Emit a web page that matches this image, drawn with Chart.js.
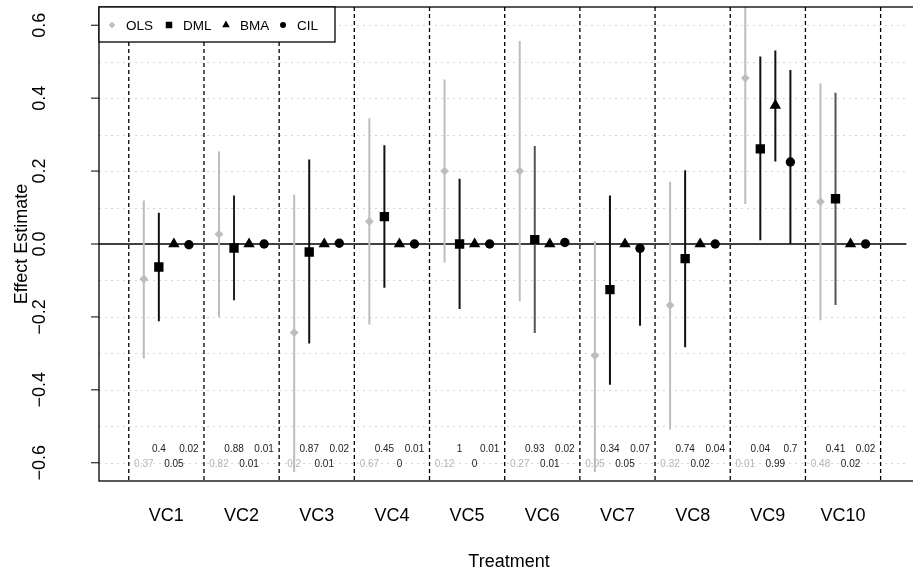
<!DOCTYPE html>
<html>
<head>
<meta charset="utf-8">
<script src="https://cdn.jsdelivr.net/npm/chart.js@4.4.1/dist/chart.umd.min.js"></script>
<style>
  html, body { margin: 0; padding: 0; background: #fff; }
  #effectChart { display: block; }
</style>
</head>
<body>
<canvas id="effectChart" width="913" height="574"></canvas>
<script>
// treatments and estimates
const treatments = ['VC1', 'VC2', 'VC3', 'VC4', 'VC5', 'VC6', 'VC7', 'VC8', 'VC9', 'VC10'];

const olsEst = [-0.096, 0.027, -0.243, 0.062, 0.200, 0.200, -0.306, -0.168, 0.455, 0.116];
const olsLo  = [-0.314, -0.200, -0.625, -0.221, -0.051, -0.157, -0.625, -0.509, 0.110, -0.209];
const olsHi  = [0.119, 0.254, 0.136, 0.345, 0.451, 0.557, 0.008, 0.171, 0.800, 0.441];

const dmlEst = [-0.063, -0.011, -0.022, 0.075, 0.000, 0.012, -0.125, -0.040, 0.261, 0.124];
const dmlLo  = [-0.212, -0.154, -0.273, -0.120, -0.178, -0.244, -0.386, -0.283, 0.010, -0.167];
const dmlHi  = [0.086, 0.133, 0.232, 0.271, 0.179, 0.269, 0.133, 0.202, 0.514, 0.415];

const bmaEst = [0, 0, 0, 0, 0, 0, 0, 0, 0.380, 0];
const bmaLo  = [0, 0, 0, 0, 0, 0, 0, 0, 0.226, 0];
const bmaHi  = [0, 0, 0, 0, 0, 0, 0, 0, 0.531, 0];

const cilEst = [-0.002, 0, 0.002, 0, 0, 0.004, -0.012, 0, 0.225, 0];
const cilLo  = [0, 0, 0, 0, 0, 0, -0.224, 0, 0.000, 0];
const cilHi  = [0, 0, 0, 0, 0, 0, 0.000, 0, 0.477, 0];

// numbers printed at the bottom of each panel
const olsNum = ['0.37', '0.82', '0.2', '0.67', '0.12', '0.27', '0.05', '0.32', '0.01', '0.48'];
const dmlNum = ['0.4', '0.88', '0.87', '0.45', '1', '0.93', '0.34', '0.74', '0.04', '0.41'];
const bmaNum = ['0.05', '0.01', '0.01', '0', '0', '0.01', '0.05', '0.02', '0.99', '0.02'];
const cilNum = ['0.02', '0.01', '0.02', '0.01', '0.01', '0.02', '0.07', '0.04', '0.7', '0.02'];

const yTicks = [-0.6, -0.4, -0.2, 0.0, 0.2, 0.4, 0.6];
const yTickLabels = ['\u22120.6', '\u22120.4', '\u22120.2', '0.0', '0.2', '0.4', '0.6'];
const gridVals = [-0.6, -0.5, -0.4, -0.3, -0.2, -0.1, 0.1, 0.2, 0.3, 0.4, 0.5, 0.6];

const FONT = "'Liberation Sans', Arial, Helvetica, sans-serif";
const GREY = '#bdbdbd';

// one entry per method: where it sits inside a panel and how it looks
const methods = [
    { label: 'OLS', est: olsEst, lo: olsLo, hi: olsHi, off: -0.3, style: 'rectRot', r: 4.4, col: GREY, bar: GREY, legR: 3.2 },
    { label: 'DML', est: dmlEst, lo: dmlLo, hi: dmlHi, off: -0.1, style: 'rect', r: 6.6, col: '#000', bar: '#111', legR: 4.6 },
    { label: 'BMA', est: bmaEst, lo: bmaLo, hi: bmaHi, off: 0.1, style: 'triangle', r: 6.6, col: '#000', bar: '#111', legR: 4.4 },
    { label: 'CIL', est: cilEst, lo: cilLo, hi: cilHi, off: 0.3, style: 'circle', r: 4.7, col: '#000', bar: '#111', legR: 3.0 }
];
// a couple of DML bars are drawn in dark grey in the original
const dmlBarCol = ['#111', '#222', '#111', '#111', '#111', '#555', '#111', '#111', '#111', '#555'];

function line(ctx, x1, y1, x2, y2) {
    ctx.beginPath();
    ctx.moveTo(x1, y1);
    ctx.lineTo(x2, y2);
    ctx.stroke();
}

const rPlot = {
    id: 'rPlot',
    beforeDatasetsDraw(chart) {
        const { ctx, chartArea: a, scales: { x, y } } = chart;
        ctx.save();

        // dotted grid
        ctx.strokeStyle = '#d6d6d6';
        ctx.lineWidth = 1;
        ctx.setLineDash([2, 4]);
        gridVals.forEach(v => {
            const py = Math.round(y.getPixelForValue(v)) + 0.5;
            line(ctx, a.left, py, a.right, py);
        });

        // dashed panel separators
        ctx.strokeStyle = '#000';
        ctx.lineWidth = 1.3;
        ctx.setLineDash([4, 3]);
        for (let k = 0; k <= treatments.length; k++) {
            const px = x.getPixelForValue(k + 0.5);
            line(ctx, px, a.top, px, a.bottom);
        }

        // zero line
        ctx.setLineDash([]);
        ctx.lineWidth = 1.3;
        const y0 = y.getPixelForValue(0);
        line(ctx, a.left, y0, a.right, y0);

        // interval bars
        ctx.beginPath();
        ctx.rect(a.left, a.top, a.right - a.left, a.bottom - a.top);
        ctx.clip();
        ctx.lineWidth = 2;
        methods.forEach(m => {
            m.lo.forEach((lo, i) => {
                if (lo === m.hi[i]) return;
                const px = x.getPixelForValue(i + 1 + m.off);
                ctx.strokeStyle = m.label === 'DML' ? dmlBarCol[i] : m.bar;
                line(ctx, px, y.getPixelForValue(m.hi[i]), px, y.getPixelForValue(lo));
            });
        });
        ctx.restore();
    },
    afterDraw(chart) {
        const { ctx, chartArea: a, scales: { x, y } } = chart;
        ctx.save();

        // box
        ctx.strokeStyle = '#000';
        ctx.lineWidth = 1.3;
        ctx.strokeRect(a.left, a.top, a.right - a.left + 10, a.bottom - a.top);

        // y axis ticks and labels (R style, parallel to the axis)
        ctx.lineWidth = 1;
        ctx.fillStyle = '#000';
        ctx.font = '18px ' + FONT;
        ctx.textAlign = 'center';
        ctx.textBaseline = 'middle';
        yTicks.forEach((v, i) => {
            const py = y.getPixelForValue(v);
            line(ctx, a.left - 8, py, a.left, py);
            ctx.save();
            ctx.translate(40, py);
            ctx.rotate(-Math.PI / 2);
            ctx.fillText(yTickLabels[i], 0, 0);
            ctx.restore();
        });

        // axis titles
        ctx.save();
        ctx.translate(22, (a.top + a.bottom) / 2);
        ctx.rotate(-Math.PI / 2);
        ctx.fillText('Effect Estimate', 0, 0);
        ctx.restore();
        ctx.fillText('Treatment', 509, 562);

        // x category labels
        treatments.forEach((t, i) => {
            ctx.fillText(t, x.getPixelForValue(i + 1), 516);
        });

        // small numbers at the bottom of each panel
        ctx.font = '10px ' + FONT;
        treatments.forEach((t, i) => {
            const c = i + 1;
            ctx.fillStyle = '#222';
            ctx.fillText(dmlNum[i], x.getPixelForValue(c + methods[1].off), 449);
            ctx.fillText(cilNum[i], x.getPixelForValue(c + methods[3].off), 449);
            ctx.fillText(bmaNum[i], x.getPixelForValue(c + methods[2].off), 464);
            ctx.fillStyle = '#b5b5b5';
            ctx.fillText(olsNum[i], x.getPixelForValue(c + methods[0].off), 464);
        });

        // legend
        const lx = a.left, ly = a.top, lw = 236, lh = 35;
        ctx.fillStyle = '#fff';
        ctx.fillRect(lx, ly, lw, lh);
        ctx.strokeStyle = '#000';
        ctx.lineWidth = 1.3;
        ctx.strokeRect(lx, ly, lw, lh);
        ctx.font = '13.5px ' + FONT;
        ctx.textAlign = 'left';
        const cy = ly + 19;
        const markX = [112, 169, 226, 283];
        methods.forEach((m, k) => {
            ctx.fillStyle = m.col;
            ctx.strokeStyle = m.col;
            Chart.helpers.drawPoint(ctx, { pointStyle: m.style, radius: m.legR, rotation: 0, borderWidth: 0 }, markX[k], cy - 1);
            ctx.fillStyle = '#000';
            ctx.fillText(m.label, markX[k] + 14, cy);
        });
        ctx.restore();
    }
};

const ctx = document.getElementById('effectChart').getContext('2d');
const effectChart = new Chart(ctx, {
    type: 'scatter',
    data: {
        datasets: methods.map(m => ({
            label: m.label,
            data: m.est.map((v, i) => ({ x: i + 1 + m.off, y: v })),
            pointStyle: m.style,
            pointRadius: m.r,
            pointHoverRadius: m.r,
            backgroundColor: m.col,
            borderColor: m.col,
            borderWidth: 0,
            showLine: false
        }))
    },
    options: {
        responsive: false,
        animation: false,
        devicePixelRatio: 1,
        layout: { padding: { left: 99, top: 7, right: 0, bottom: 93 } },
        scales: {
            x: { type: 'linear', min: 0.104, max: 10.843, display: false },
            y: { min: -0.65, max: 0.65, display: false }
        },
        plugins: {
            legend: { display: false },
            tooltip: { enabled: false }
        }
    },
    plugins: [rPlot]
});
</script>
</body>
</html>
